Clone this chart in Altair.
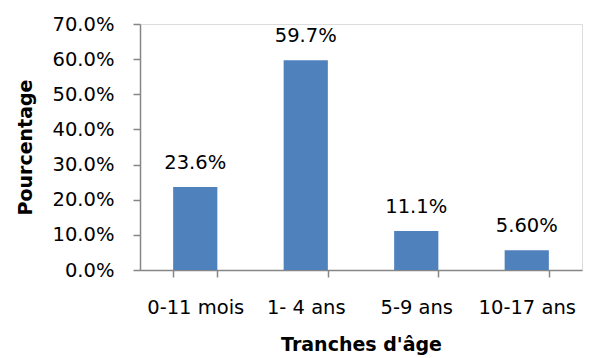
import altair as alt
import pandas as pd

categories = ["0-11 mois", "1- 4 ans", "5-9 ans", "10-17 ans"]
values = [0.236, 0.597, 0.111, 0.056]
labels = ["23.6%", "59.7%", "11.1%", "5.60%"]
y_ticks = [0, 0.1, 0.2, 0.3, 0.4, 0.5, 0.6, 0.7]

df = pd.DataFrame({"cat": categories, "val": values, "lab": labels})

FONT = "DejaVu Sans"
GRAY = "#868686"
FS = 19.5

x = alt.X("cat:N", sort=categories,
          scale=alt.Scale(paddingInner=0.6, paddingOuter=0.3),
          axis=alt.Axis(title="Tranches d'âge", labelAngle=0, tickBand="extent",
                        labelFontSize=FS, labelFont=FONT, labelColor="#000000",
                        labelOverlap=False, labelFlush=False,
                        titleFontSize=19, titleFont=FONT, titleFontWeight="bold",
                        titleColor="#000000", titlePadding=19,
                        tickSize=7, labelPadding=21, domainColor=GRAY, tickColor=GRAY,
                        domainWidth=1.5, tickWidth=1.5))
y = alt.Y("val:Q", scale=alt.Scale(domain=[0, 0.7], nice=False),
          axis=alt.Axis(title="Pourcentage", format=".1%",
                        values=y_ticks,
                        labelOverlap=False, labelFlush=False,
                        grid=False, labelFontSize=FS, labelFont=FONT, labelColor="#000000",
                        titleFontSize=19, titleFont=FONT, titleFontWeight="bold",
                        titleColor="#000000", titlePadding=17,
                        tickSize=7, labelPadding=19, domainColor=GRAY, tickColor=GRAY,
                        domainWidth=1.5, tickWidth=1.5))

base = alt.Chart(df).encode(x=x, y=y)
bars = base.mark_bar(color="#4F81BD")
text = base.mark_text(baseline="alphabetic", dy=-18, fontSize=FS, font=FONT,
                      color="#000000").encode(text="lab:N")

chart = (bars + text).properties(
    width=442, height=246,
    autosize=alt.AutoSizeParams(type="none"),
    padding={"left": 140, "top": 24, "right": 8, "bottom": 88},
).configure_view(strokeWidth=0).configure(background="white")

chart.save("out.html", embed_options={"renderer": "svg", "actions": False})
